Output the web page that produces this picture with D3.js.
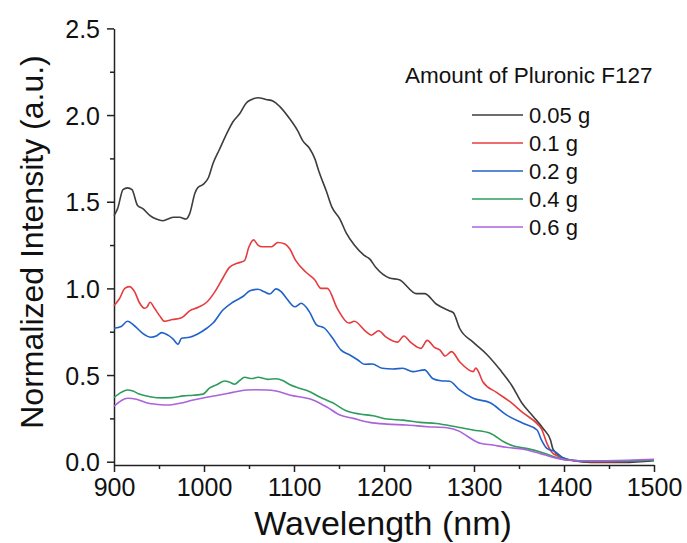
<!DOCTYPE html>
<html>
<head>
<meta charset="utf-8">
<script src="https://cdn.jsdelivr.net/npm/d3@7"></script>
<style>
  body { margin: 0; background: #fff; }
  svg { display: block; font-family: "Liberation Sans", Arial, sans-serif; }
</style>
</head>
<body>
<div id="chart"></div>
<script>
// values, [wavelength nm, normalized intensity]
const s005 = [[900,1.42],[904,1.46],[910,1.57],[915,1.58],[920,1.57],[926,1.48],[932,1.46],[940,1.42],[947,1.40],[954,1.39],[960,1.40],[966,1.41],[973,1.41],[980,1.40],[984,1.43],[990,1.55],[993,1.58],[999,1.60],[1005,1.64],[1010,1.72],[1017,1.80],[1025,1.89],[1032,1.96],[1040,2.01],[1047,2.07],[1053,2.09],[1060,2.10],[1069,2.09],[1077,2.08],[1084,2.05],[1095,1.98],[1104,1.91],[1110,1.85],[1117,1.81],[1123,1.75],[1128,1.67],[1136,1.56],[1142,1.47],[1151,1.40],[1158,1.32],[1167,1.25],[1178,1.19],[1184,1.17],[1191,1.12],[1206,1.06],[1217,1.05],[1236,0.97],[1245,0.97],[1258,0.91],[1273,0.87],[1277,0.86],[1284,0.77],[1299,0.69],[1314,0.62],[1329,0.53],[1342,0.44],[1353,0.34],[1366,0.26],[1377,0.19],[1385,0.125],[1388,0.07],[1398,0.025],[1411,0.006],[1430,-0.004],[1466,-0.004],[1500,0.006]];
const s01 = [[900,0.90],[906,0.94],[912,1.00],[917,1.01],[923,0.98],[928,0.92],[934,0.885],[937,0.894],[940,0.92],[945,0.885],[951,0.84],[956,0.81],[965,0.82],[975,0.83],[984,0.87],[993,0.89],[1003,0.92],[1012,0.98],[1021,1.06],[1028,1.12],[1037,1.145],[1045,1.16],[1050,1.24],[1055,1.28],[1060,1.25],[1065,1.24],[1075,1.24],[1082,1.265],[1090,1.256],[1095,1.23],[1102,1.16],[1114,1.09],[1123,1.05],[1130,1.00],[1137,1.00],[1148,0.885],[1161,0.80],[1167,0.81],[1180,0.75],[1186,0.73],[1194,0.756],[1202,0.72],[1215,0.69],[1222,0.725],[1230,0.687],[1241,0.654],[1248,0.70],[1256,0.66],[1262,0.645],[1268,0.61],[1275,0.635],[1284,0.577],[1299,0.52],[1302,0.54],[1310,0.46],[1325,0.40],[1340,0.346],[1355,0.28],[1370,0.22],[1375,0.19],[1381,0.106],[1386,0.058],[1394,0.03],[1403,0.01],[1430,0.0],[1470,0.002],[1500,0.01]];
const s02 = [[900,0.77],[908,0.78],[915,0.81],[923,0.783],[932,0.74],[941,0.718],[947,0.725],[953,0.745],[960,0.73],[966,0.706],[971,0.677],[975,0.712],[984,0.718],[993,0.737],[1003,0.77],[1010,0.80],[1021,0.875],[1032,0.92],[1044,0.956],[1051,0.987],[1060,0.995],[1067,0.98],[1073,0.968],[1080,0.997],[1086,0.98],[1092,0.94],[1101,0.894],[1108,0.914],[1117,0.866],[1125,0.79],[1134,0.77],[1143,0.712],[1152,0.645],[1162,0.616],[1171,0.587],[1178,0.562],[1187,0.564],[1198,0.539],[1210,0.535],[1221,0.539],[1232,0.52],[1245,0.53],[1254,0.48],[1263,0.467],[1273,0.464],[1284,0.414],[1299,0.366],[1318,0.34],[1336,0.27],[1355,0.22],[1370,0.183],[1375,0.125],[1381,0.077],[1390,0.058],[1398,0.025],[1407,0.01],[1430,0.003],[1470,0.004],[1500,0.01]];
const s04 = [[900,0.37],[908,0.40],[915,0.414],[921,0.408],[928,0.39],[940,0.375],[954,0.368],[965,0.37],[977,0.38],[988,0.383],[999,0.39],[1006,0.424],[1014,0.444],[1023,0.466],[1028,0.46],[1034,0.447],[1040,0.47],[1045,0.487],[1053,0.48],[1060,0.487],[1071,0.475],[1080,0.479],[1088,0.467],[1095,0.445],[1106,0.424],[1115,0.41],[1128,0.375],[1143,0.34],[1158,0.294],[1173,0.275],[1188,0.265],[1203,0.246],[1221,0.24],[1240,0.227],[1258,0.22],[1281,0.20],[1299,0.183],[1318,0.164],[1333,0.115],[1344,0.09],[1358,0.077],[1373,0.058],[1388,0.03],[1403,0.01],[1430,0.004],[1470,0.005],[1500,0.01]];
const s06 = [[900,0.32],[908,0.352],[915,0.366],[925,0.36],[936,0.34],[949,0.33],[960,0.327],[973,0.337],[988,0.356],[1003,0.372],[1017,0.385],[1032,0.40],[1047,0.414],[1058,0.415],[1069,0.414],[1080,0.408],[1095,0.385],[1121,0.356],[1136,0.317],[1151,0.27],[1166,0.25],[1184,0.227],[1203,0.217],[1225,0.212],[1248,0.202],[1270,0.196],[1284,0.175],[1296,0.135],[1307,0.106],[1321,0.096],[1336,0.083],[1355,0.072],[1373,0.048],[1388,0.025],[1403,0.01],[1429,0.004],[1470,0.008],[1500,0.014]];

const seriesNames = ["0.05 g", "0.1 g", "0.2 g", "0.4 g", "0.6 g"];
const seriesColors = ["#3d3d3d", "#e63b3f", "#1f62c9", "#2e9c5c", "#ab63dc"];
const xTicks = [900, 1000, 1100, 1200, 1300, 1400, 1500];
const yTicks = [0, 0.5, 1.0, 1.5, 2.0, 2.5];

const W = 687, H = 543;
const svg = d3.select("#chart").append("svg")
  .attr("width", W).attr("height", H);

const x = d3.scaleLinear().domain([900, 1500]).range([114, 654]);
const y = d3.scaleLinear().domain([-0.019, 2.5]).range([465, 28.4]);

// minor ticks
svg.append("g")
  .attr("transform", `translate(0,${y(-0.019)})`)
  .call(d3.axisBottom(x).tickValues(d3.range(950, 1500, 100)).tickSize(4).tickFormat(""))
  .call(g => g.select(".domain").remove());
svg.append("g")
  .attr("transform", `translate(${x(900)},0)`)
  .call(d3.axisLeft(y).tickValues(d3.range(0.25, 2.5, 0.5)).tickSize(4).tickFormat(""))
  .call(g => g.select(".domain").remove());

// x axis
svg.append("g")
  .attr("class", "xaxis")
  .attr("transform", `translate(0,${y(-0.019)})`)
  .call(d3.axisBottom(x).tickValues(xTicks).tickSize(7).tickSizeOuter(0).tickPadding(6).tickFormat(d3.format("d")));

// y axis
svg.append("g")
  .attr("class", "yaxis")
  .attr("transform", `translate(${x(900)},0)`)
  .call(d3.axisLeft(y).tickValues(yTicks).tickSize(7).tickSizeOuter(0).tickPadding(7).tickFormat(d3.format(".1f")));

svg.selectAll(".tick line, .domain").attr("stroke", "#222").attr("stroke-width", 1.5);
svg.selectAll(".xaxis text, .yaxis text")
  .attr("fill", "#111")
  .style("font-size", "25px");
svg.selectAll(".yaxis text").attr("dy", "0.36em");

// lines
const allSeries = [s005, s01, s02, s04, s06];
const line = d3.line()
  .x(d => x(d[0]))
  .y(d => y(d[1]))
  .curve(d3.curveMonotoneX);

svg.selectAll("path.series")
  .data(allSeries)
  .join("path")
    .attr("class", "series")
    .attr("d", d => line(d))
    .attr("fill", "none")
    .attr("stroke", (d, i) => seriesColors[i])
    .attr("stroke-width", 1.6);

// axis titles
svg.append("text")
  .attr("x", 383).attr("y", 535)
  .attr("text-anchor", "middle")
  .style("font-size", "34px")
  .attr("fill", "#111")
  .text("Wavelength (nm)");

svg.append("text")
  .attr("transform", "translate(43,242) rotate(-90)")
  .attr("text-anchor", "middle")
  .style("font-size", "32px")
  .attr("fill", "#111")
  .text("Normalized Intensity (a.u.)");

// legend
svg.append("text")
  .attr("x", 405).attr("y", 83)
  .style("font-size", "22.5px")
  .attr("fill", "#111")
  .text("Amount of Pluronic F127");

const legend = svg.selectAll("g.leg")
  .data(seriesNames)
  .join("g")
    .attr("class", "leg")
    .attr("transform", (d, i) => `translate(0,${115 + i * 28})`);
legend.append("line")
  .attr("x1", 472).attr("x2", 523)
  .attr("stroke", (d, i) => seriesColors[i])
  .attr("stroke-width", 1.6);
legend.append("text")
  .attr("x", 529).attr("y", 8)
  .style("font-size", "22px")
  .attr("fill", "#111")
  .text(d => d);
</script>
</body>
</html>
